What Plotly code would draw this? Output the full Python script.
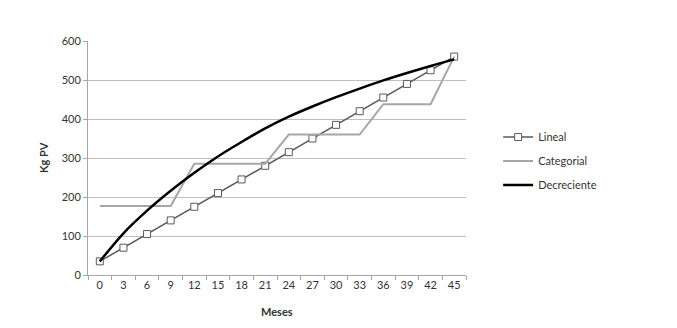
import plotly.graph_objects as go

meses = ["0", "3", "6", "9", "12", "15", "18", "21", "24", "27", "30", "33", "36", "39", "42", "45"]
lineal = [35, 70, 105, 140, 175, 210, 245, 280, 315, 350, 385, 420, 455, 490, 525, 560]
categorial = [177, 177, 177, 177, 285, 285, 285, 285, 360, 360, 360, 360, 438, 438, 438, 560]
decreciente = [35, 107, 165, 216, 262, 304, 341, 376, 406, 432, 456, 478, 499, 518, 536, 553]

FONT = "Lato, 'Open Sans', sans-serif"

fig = go.Figure()
fig.add_trace(go.Scatter(
    x=meses, y=lineal, name="Lineal", mode="lines+markers",
    line=dict(color="#595959", width=1.5),
    marker=dict(symbol="square", size=7, color="white", line=dict(color="#595959", width=1)),
    legendgroup="a",
))
fig.add_trace(go.Scatter(
    x=meses, y=categorial, name="Categorial", mode="lines",
    line=dict(color="#a6a6a6", width=2),
    legendgroup="b",
))
fig.add_trace(go.Scatter(
    x=meses, y=decreciente, name="Decreciente", mode="lines",
    line=dict(color="black", width=2.5, shape="spline", smoothing=0.8),
    legendgroup="c",
))

fig.update_layout(
    width=677, height=328,
    margin=dict(l=80, r=219, t=33, b=61),
    paper_bgcolor="white", plot_bgcolor="white",
    font=dict(family=FONT, size=11, color="#333333"),
    showlegend=True,
    legend=dict(x=1.085, xanchor="left", y=0.487, yanchor="middle",
                font=dict(size=11, color="#333333"), tracegroupgap=5,
                bgcolor="rgba(0,0,0,0)", itemwidth=30),
    xaxis=dict(
        type="category", range=[-0.5, 15.5],
        showline=True, linecolor="#a6a6a6", linewidth=1,
        ticks="outside", tickson="boundaries", ticklen=4, tickcolor="#a6a6a6",
        showgrid=False, tickfont=dict(size=11),
    ),
    yaxis=dict(
        range=[0, 600], dtick=100, tick0=0,
        showline=True, linecolor="#a6a6a6", linewidth=1,
        ticks="outside", ticklen=4, tickcolor="#a6a6a6",
        showgrid=True, gridcolor="#bfbfbf", gridwidth=1,
        zeroline=False, tickfont=dict(size=11),
    ),
    annotations=[
        dict(text="<b>Meses</b>", xref="paper", yref="paper", x=0.5, y=-0.158,
             showarrow=False, xanchor="center", yanchor="middle", font=dict(size=11, color="#333333")),
        dict(text="<b>Kg PV</b>", xref="paper", yref="paper", x=-0.119, y=0.5,
             showarrow=False, xanchor="center", yanchor="middle", textangle=-90,
             font=dict(size=11, color="#333333")),
    ],
)

fig.write_html("out.html")
